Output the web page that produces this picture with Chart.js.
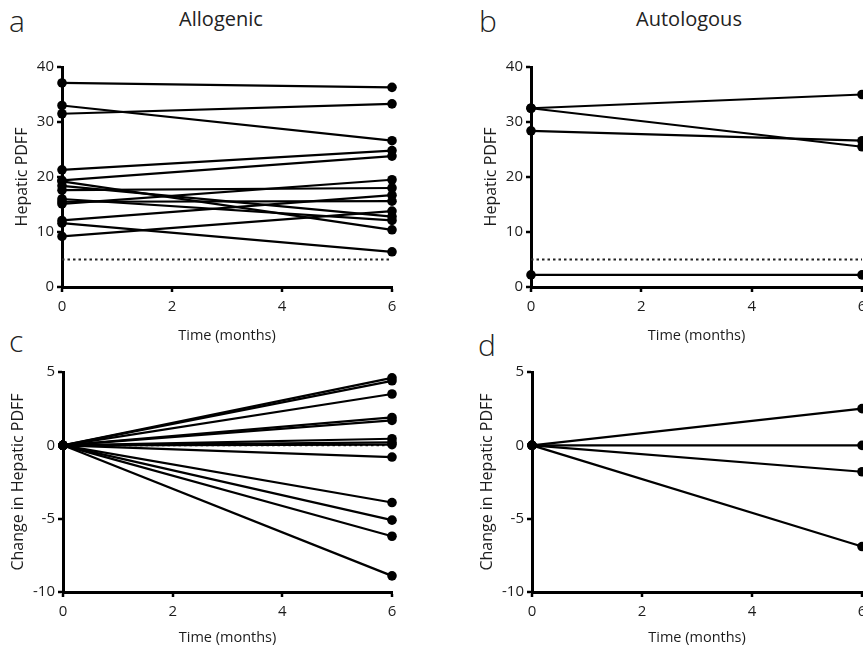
<!DOCTYPE html>
<html>
<head>
<meta charset="utf-8">
<script src="https://cdn.jsdelivr.net/npm/chart.js@4/dist/chart.umd.min.js"></script>
<style>
  html, body { margin:0; padding:0; background:#fff; }
  body { width:863px; height:650px; overflow:hidden; position:relative; font-family:"Open Sans", sans-serif; }
  canvas { position:absolute; }
  .lbl { position:absolute; color:#222; line-height:1; white-space:nowrap; }
  .letter { font-size:30px; font-weight:300; }
  .ttl { font-size:20px; font-weight:400; transform:translateX(-50%); }
</style>
</head>
<body>
<div class="lbl letter" style="left:9px;top:6px;">a</div>
<div class="lbl letter" style="left:479px;top:6px;">b</div>
<div class="lbl letter" style="left:9px;top:326px;">c</div>
<div class="lbl letter" style="left:478px;top:330px;">d</div>
<div class="lbl ttl" style="left:221px;top:9px;">Allogenic</div>
<div class="lbl ttl" style="left:689px;top:9px;">Autologous</div>

<canvas id="pa" width="430" height="320" style="left:0px;top:40px;"></canvas>
<canvas id="pb" width="430" height="320" style="left:470px;top:40px;"></canvas>
<canvas id="pc" width="430" height="320" style="left:0px;top:345px;"></canvas>
<canvas id="pd" width="430" height="320" style="left:470px;top:345px;"></canvas>

<script>
// ---- data ----
const timePoints = [0, 6];
const xTicks = [0, 2, 4, 6];

// Panel a: Allogenic, hepatic PDFF (%) at baseline and month 6
const alloBaseline = [37.1, 33.0, 31.5, 21.3, 19.4, 19.2, 18.4, 17.6, 16.0, 15.5, 15.1, 12.1, 11.6, 9.2];
const alloMonth6   = [36.3, 26.6, 33.3, 24.8, 23.8, 10.4, 12.8, 18.0, 12.1, 15.6, 19.5, 16.7, 6.4, 13.8];

// Panel b: Autologous
const autoBaseline = [32.5, 32.5, 28.4, 2.2];
const autoMonth6   = [35.0, 25.5, 26.6, 2.2];

// Panel c: Allogenic change from baseline at month 6
const alloChange = [4.6, 4.4, 3.5, 1.9, 1.7, 0.45, 0.2, 0.05, -0.8, -3.9, -5.1, -6.2, -8.9];

// Panel d: Autologous change
const autoChange = [2.5, 0.0, -1.8, -6.9];

const pdffThreshold = 5;   // dotted reference line (panels a, b)
const changeReference = 0; // dotted reference line (panel c)

const pdffTicks = [0, 10, 20, 30, 40];
const changeTicks = [-10, -5, 0, 5];

// ---- helpers ----
const INK = '#000';
const TXT = '#1c1c1c';
const FONT = '"Open Sans", sans-serif';

function pairDatasets(starts, ends) {
  return starts.map((s, i) => ({
    data: [{x: timePoints[0], y: s}, {x: timePoints[1], y: ends[i]}],
    borderColor: INK, backgroundColor: INK, borderWidth: 2.2,
    pointRadius: 4.8, pointHoverRadius: 4.8, pointBackgroundColor: INK, pointBorderWidth: 0,
    clip: false, tension: 0
  }));
}
function refLine(v) {
  return {
    data: [{x: timePoints[0], y: v}, {x: timePoints[1], y: v}],
    borderColor: '#222', borderWidth: 2, borderDash: [2.5, 3], pointRadius: 0, clip: false, order: 5
  };
}

function makePanel(id, datasets, yTicks, yTitle, cfg) {
  const yMin = yTicks[0], yMax = yTicks[yTicks.length - 1];
  const yStep = yTicks[1] - yTicks[0];
  new Chart(document.getElementById(id), {
    type: 'line',
    data: { datasets },
    options: {
      responsive: false, animation: false, devicePixelRatio: 1,
      layout: { padding: { left: 0, right: cfg.padRight, top: 27, bottom: 0 } },
      plugins: { legend: { display: false }, tooltip: { enabled: false }, title: { display: false } },
      scales: {
        x: {
          type: 'linear', min: xTicks[0], max: xTicks[xTicks.length - 1],
          afterBuildTicks: s => { s.ticks = xTicks.map(v => ({ value: v })); },
          ticks: { color: TXT, font: { family: FONT, size: 15 }, padding: 6, maxRotation: 0 },
          grid: { display: true, drawOnChartArea: false, drawTicks: true, tickLength: 5, color: INK, lineWidth: 2, tickWidth: 2.5 },
          border: { display: true, color: INK, width: 3 },
          title: { display: true, text: 'Time (months)', color: TXT, font: { family: FONT, size: 14.5 }, padding: { top: 4, bottom: cfg.xTitlePad } },
          afterFit: s => { s.height = 73; }
        },
        y: {
          min: yMin, max: yMax,
          afterBuildTicks: s => { s.ticks = yTicks.map(v => ({ value: v })); },
          ticks: { color: TXT, font: { family: FONT, size: 15 }, padding: 3, stepSize: yStep },
          grid: { display: true, drawOnChartArea: false, drawTicks: true, tickLength: 5, color: INK, lineWidth: 2, tickWidth: 2.5 },
          border: { display: true, color: INK, width: 3 },
          title: { display: true, text: yTitle, color: TXT, font: { family: FONT, size: 16 }, padding: { top: cfg.yTitlePad, bottom: 0 } },
          afterFit: s => { s.width = cfg.yWidth; }
        }
      }
    }
  });
}

makePanel('pa', [refLine(pdffThreshold), ...pairDatasets(alloBaseline, alloMonth6)], pdffTicks, 'Hepatic PDFF',
  { padRight: 38, yWidth: 62, yTitlePad: 13, xTitlePad: 15 });
makePanel('pb', [refLine(pdffThreshold), ...pairDatasets(autoBaseline, autoMonth6)], pdffTicks, 'Hepatic PDFF',
  { padRight: 38, yWidth: 61, yTitlePad: 12, xTitlePad: 15 });
makePanel('pc', [refLine(changeReference), ...pairDatasets(alloChange.map(() => 0), alloChange)], changeTicks, 'Change in Hepatic PDFF',
  { padRight: 38, yWidth: 63, yTitlePad: 9, xTitlePad: 18 });
makePanel('pd', [...pairDatasets(autoChange.map(() => 0), autoChange)], changeTicks, 'Change in Hepatic PDFF',
  { padRight: 38, yWidth: 62, yTitlePad: 8, xTitlePad: 18 });
</script>
</body>
</html>
